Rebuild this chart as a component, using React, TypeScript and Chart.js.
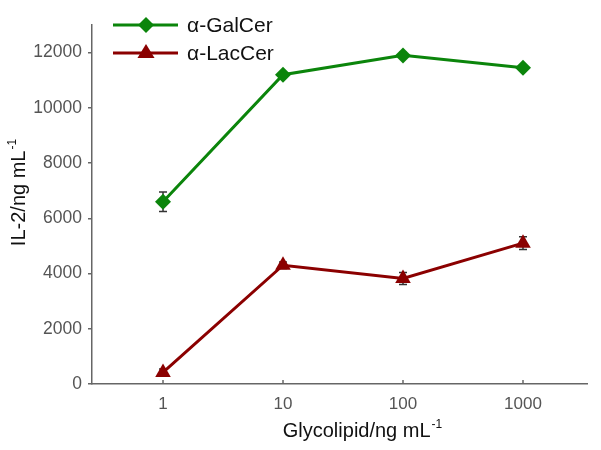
import React, { useEffect, useRef } from "react";
import { Chart, registerables } from "chart.js";

Chart.register(...registerables);

const concentrations = [1, 10, 100, 1000];
const xTickValues = [1, 10, 100, 1000];
const yTickValues = [0, 2000, 4000, 6000, 8000, 10000, 12000];
const galCerValues = [6600, 11200, 11900, 11450];
const galCerErrors = [350, 80, 100, 80];
const lacCerValues = [420, 4300, 3820, 5100];
const lacCerErrors = [120, 120, 220, 230];
const seriesNames = ["α-GalCer", "α-LacCer"];
const xTitle = "Glycolipid/ng mL";
const yTitle = "IL-2/ng mL";
const titleSup = "-1";

const GREEN = "#0b850b";
const RED = "#8b0000";
const FONT = "'Liberation Sans', Arial, sans-serif";

function drawMarker(ctx: CanvasRenderingContext2D, kind: string, x: number, y: number, r: number, color: string) {
  ctx.save();
  ctx.fillStyle = color;
  ctx.beginPath();
  if (kind === "diamond") {
    ctx.moveTo(x, y - r);
    ctx.lineTo(x + r, y);
    ctx.lineTo(x, y + r);
    ctx.lineTo(x - r, y);
  } else {
    ctx.moveTo(x, y - r);
    ctx.lineTo(x + r * 0.95, y + r * 0.55);
    ctx.lineTo(x - r * 0.95, y + r * 0.55);
  }
  ctx.closePath();
  ctx.fill();
  ctx.restore();
}

function drawSupText(ctx: CanvasRenderingContext2D, text: string, sup: string, cx: number, baseY: number, size: number) {
  ctx.font = `${size}px ${FONT}`;
  const w1 = ctx.measureText(text).width;
  const supSize = Math.round(size * 0.6);
  ctx.font = `${supSize}px ${FONT}`;
  const w2 = ctx.measureText(sup).width;
  const start = cx - (w1 + w2) / 2;
  ctx.textAlign = "left";
  ctx.textBaseline = "alphabetic";
  ctx.font = `${size}px ${FONT}`;
  ctx.fillText(text, start, baseY);
  ctx.font = `${supSize}px ${FONT}`;
  ctx.fillText(sup, start + w1 + 1, baseY - size * 0.45);
}

const errorBarPlugin = {
  id: "errorBars",
  beforeDatasetsDraw(chart: any) {
    const ctx = chart.ctx;
    const xs = chart.scales.x;
    const ys = chart.scales.y;
    const sets = [
      { v: galCerValues, e: galCerErrors },
      { v: lacCerValues, e: lacCerErrors },
    ];
    ctx.save();
    ctx.strokeStyle = "#333";
    ctx.lineWidth = 1.5;
    sets.forEach((s) => {
      s.v.forEach((val, i) => {
        const x = xs.getPixelForValue(concentrations[i]);
        const yt = ys.getPixelForValue(val + s.e[i]);
        const yb = ys.getPixelForValue(val - s.e[i]);
        ctx.beginPath();
        ctx.moveTo(x, yt);
        ctx.lineTo(x, yb);
        ctx.moveTo(x - 4, yt);
        ctx.lineTo(x + 4, yt);
        ctx.moveTo(x - 4, yb);
        ctx.lineTo(x + 4, yb);
        ctx.stroke();
      });
    });
    ctx.restore();
  },
};

const decorPlugin = {
  id: "decor",
  afterDraw(chart: any) {
    const ctx = chart.ctx;
    const xs = chart.scales.x;
    const area = chart.chartArea;
    ctx.save();
    // inward x ticks
    ctx.strokeStyle = "#666";
    ctx.lineWidth = 1.5;
    xTickValues.forEach((v) => {
      const x = xs.getPixelForValue(v);
      ctx.beginPath();
      ctx.moveTo(x, area.bottom);
      ctx.lineTo(x, area.bottom - 4);
      ctx.stroke();
    });
    // legend
    const entries = [
      { name: seriesNames[0], color: GREEN, kind: "diamond", y: 25 },
      { name: seriesNames[1], color: RED, kind: "triangle", y: 53 },
    ];
    entries.forEach((en) => {
      ctx.strokeStyle = en.color;
      ctx.lineWidth = 3;
      ctx.beginPath();
      ctx.moveTo(113, en.y);
      ctx.lineTo(178, en.y);
      ctx.stroke();
      drawMarker(ctx, en.kind, 146, en.y, en.kind === "diamond" ? 8 : 9, en.color);
      ctx.fillStyle = "#111";
      ctx.font = `21px ${FONT}`;
      ctx.textAlign = "left";
      ctx.textBaseline = "middle";
      ctx.fillText(en.name, 187, en.y + 1);
    });
    // axis titles
    ctx.fillStyle = "#111";
    drawSupText(ctx, xTitle, titleSup, 362, 437, 20);
    ctx.save();
    ctx.translate(25, 193);
    ctx.rotate(-Math.PI / 2);
    drawSupText(ctx, yTitle, titleSup, 0, 0, 20);
    ctx.restore();
    ctx.restore();
  },
};

export default function App() {
  const ref = useRef<HTMLCanvasElement>(null);
  useEffect(() => {
    if (!ref.current) return;
    const pointPos = concentrations;
    const chart = new Chart(ref.current, {
      type: "line",
      data: {
        datasets: [
          {
            label: seriesNames[0],
            data: pointPos.map((x, i) => ({ x, y: galCerValues[i] })),
            borderColor: GREEN,
            backgroundColor: GREEN,
            borderWidth: 3,
            pointStyle: "rectRot",
            pointRadius: 8,
            pointBorderWidth: 0,
            tension: 0,
          },
          {
            label: seriesNames[1],
            data: pointPos.map((x, i) => ({ x, y: lacCerValues[i] })),
            borderColor: RED,
            backgroundColor: RED,
            borderWidth: 3,
            pointStyle: "triangle",
            pointRadius: 9,
            pointBorderWidth: 0,
            tension: 0,
          },
        ],
      },
      options: {
        animation: false,
        responsive: false,
        maintainAspectRatio: false,
        layout: { padding: { top: 25, right: 14, left: 0, bottom: 0 } },
        plugins: { legend: { display: false }, tooltip: { enabled: false } },
        scales: {
          x: {
            type: "logarithmic",
            min: 0.256,
            max: 3415,
            afterBuildTicks: (s: any) => {
              s.ticks = xTickValues.map((v) => ({ value: v }));
            },
            afterFit: (s: any) => {
              s.height = 66;
            },
            grid: { display: false, drawTicks: false },
            border: { display: true, color: "#666", width: 1.5 },
            ticks: {
              color: "#555",
              font: { family: FONT, size: 17 },
              padding: 10,
              maxRotation: 0,
              autoSkip: false,
              callback: (v: any) => String(v),
            },
          },
          y: {
            type: "linear",
            min: 0,
            max: 13000,
            afterBuildTicks: (s: any) => {
              s.ticks = yTickValues.map((v) => ({ value: v }));
            },
            afterFit: (s: any) => {
              s.width = 92;
            },
            grid: { drawOnChartArea: false, drawTicks: true, tickLength: 4, color: "#666", lineWidth: 1.5 },
            border: { display: true, color: "#666", width: 1.5 },
            ticks: {
              color: "#555",
              font: { family: FONT, size: 17.5 },
              padding: 6,
              callback: (v: any) => String(v),
            },
          },
        },
      },
      plugins: [errorBarPlugin, decorPlugin],
    });
    return () => chart.destroy();
  }, []);
  return (
    <div style={{ position: "fixed", left: 0, top: 0, width: 601, height: 450, background: "#fff" }}>
      <canvas ref={ref} width={601} height={450} style={{ display: "block" }} />
    </div>
  );
}
